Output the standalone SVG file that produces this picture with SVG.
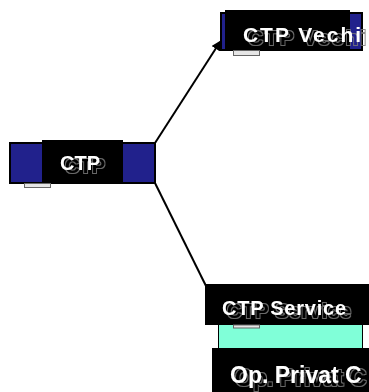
<svg xmlns="http://www.w3.org/2000/svg" width="369" height="392" viewBox="0 0 369 392">
<defs>
<style>
.outer{fill:#21218c;stroke:#000;stroke-width:2}
.lbl{fill:#000}
.tab{fill:#e6e6e6;stroke:#666;stroke-width:1}
.t{font-family:"Liberation Sans",Arial,sans-serif;font-weight:bold;fill:#fff;filter:url(#ghost)}
.con{stroke:#000;stroke-width:2;fill:none}
</style>
<filter id="ghost" x="-10%" y="-30%" width="130%" height="170%">
<feOffset in="SourceAlpha" dx="5" dy="3" result="off"/>
<feMorphology in="off" operator="dilate" radius="0.5" result="dil"/>
<feComposite in="dil" in2="off" operator="out" result="ring"/>
<feFlood flood-color="#7a7a7a" flood-opacity="0.85"/>
<feComposite in2="ring" operator="in" result="gray"/>
<feMerge><feMergeNode in="gray"/><feMergeNode in="SourceGraphic"/></feMerge>
</filter>
<marker id="ah" markerWidth="10" markerHeight="10" refX="8" refY="5" orient="auto" markerUnits="userSpaceOnUse">
<path d="M0,0 L10,5 L0,10 z" fill="#000"/>
</marker>
</defs>
<rect width="369" height="392" fill="#fff"/>
<g id="connectors">
<line class="con" x1="155" y1="143" x2="220" y2="42" marker-end="url(#ah)"/>
<line class="con" x1="155" y1="183" x2="207" y2="288"/>
</g>
<g id="node-ctp">
<rect class="outer" x="10" y="143" width="145" height="40"/>
<rect class="lbl" x="42" y="140" width="81" height="43"/>
<rect class="tab" x="24.5" y="183.5" width="26" height="4"/>
<text class="t" x="60" y="170" font-size="20">CTP</text>
</g>
<g id="node-ctp-vechi">
<rect class="outer" x="221" y="13" width="141" height="37"/>
<rect class="lbl" x="225" y="10" width="125" height="40"/>
<rect class="tab" x="233.5" y="50.5" width="26" height="5"/>
<text class="t" x="243" y="42" font-size="21" textLength="118" lengthAdjust="spacing">CTP Vechi</text>
</g>
<g id="node-ctp-service">
<rect x="218.5" y="300" width="144" height="49" fill="#80ffd8" stroke="#000" stroke-width="1"/>
<rect class="lbl" x="205" y="284" width="164" height="41"/>
<rect class="tab" x="233.5" y="325" width="26" height="3"/>
<text class="t" x="222" y="315" font-size="20" textLength="124" lengthAdjust="spacing">CTP Service</text>
</g>
<g id="node-op-privat">
<rect class="lbl" x="212" y="348" width="157" height="44"/>
<text class="t" x="230" y="383" font-size="23">Op. Privat C</text>
</g>
</svg>
